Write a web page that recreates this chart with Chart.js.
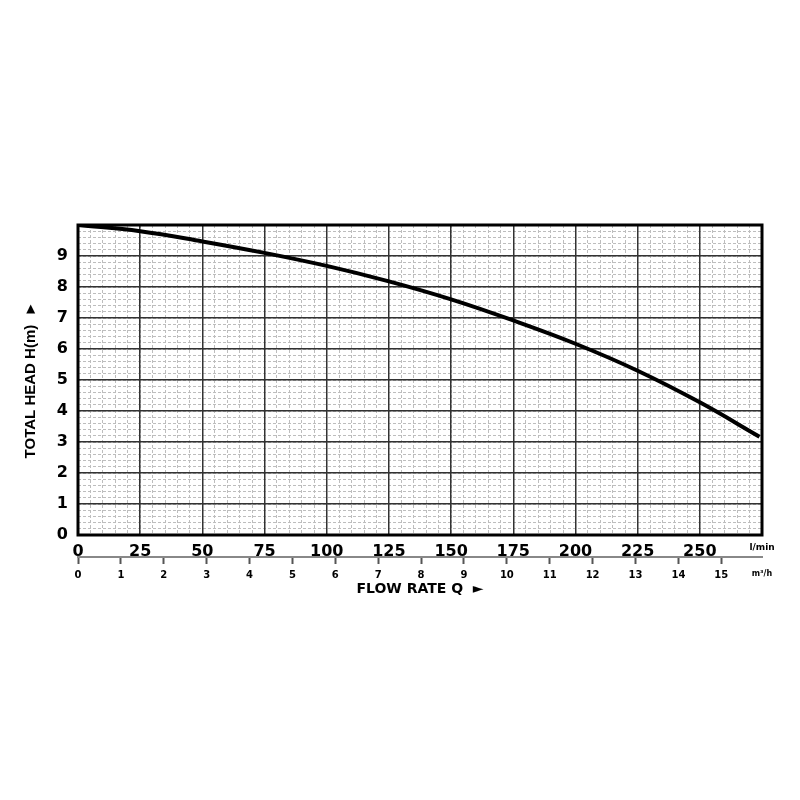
<!DOCTYPE html>
<html>
<head>
<meta charset="utf-8">
<script src="https://cdn.jsdelivr.net/npm/chart.js@4"></script>
<style>
  body { margin: 0; background: #fff; }
  canvas { display: block; }
</style>
</head>
<body>
<canvas id="pump" width="800" height="800"></canvas>
<script>
// pump curve: total head vs flow rate
const flowLmin = [0, 25, 50, 75, 100, 125, 150, 175, 200, 225, 250, 274];
const headM = [10, 9.8, 9.47, 9.1, 8.68, 8.18, 7.6, 6.92, 6.17, 5.3, 4.28, 3.17];

const lminTicks = [0, 25, 50, 75, 100, 125, 150, 175, 200, 225, 250, 275];
const m3hTicks = [0, 1, 2, 3, 4, 5, 6, 7, 8, 9, 10, 11, 12, 13, 14, 15, 15.95];
const headTicks = [0, 1, 2, 3, 4, 5, 6, 7, 8, 9, 10];

const lminUnit = 'l/min';
const m3hUnit = 'm³/h';

const FONT = 'DejaVu Sans';

const frame = {
    id: 'frame',
    afterDraw(chart) {
        const a = chart.chartArea;
        const ctx = chart.ctx;
        ctx.save();
        ctx.strokeStyle = '#000';
        ctx.lineWidth = 3;
        ctx.strokeRect(a.left, a.top, a.right - a.left, a.bottom - a.top);
        ctx.restore();
    }
};

const minorGrid = {
    display: true,
    color: '#bdbdbd',
    lineWidth: 1,
    drawTicks: false
};

new Chart(document.getElementById('pump'), {
    type: 'line',
    data: {
        datasets: [{
            data: flowLmin.map((q, i) => ({ x: q, y: headM[i] })),
            borderColor: '#000',
            borderWidth: 4,
            pointRadius: 0,
            tension: 0.4,
            fill: false
        }]
    },
    options: {
        responsive: false,
        animation: false,
        layout: { padding: { top: 225, right: 38, bottom: 202, left: 0 } },
        plugins: { legend: { display: false }, tooltip: { enabled: false } },
        scales: {
            xMinor: {
                type: 'linear', position: 'bottom', min: 0, max: 275, z: -1,
                ticks: { display: false, stepSize: 5 },
                grid: minorGrid,
                border: { display: false, dash: [3, 2] },
                afterFit: s => { s.height = 0; }
            },
            yMinor: {
                type: 'linear', position: 'left', min: 0, max: 10, z: -1,
                ticks: { display: false, stepSize: 0.2 },
                grid: minorGrid,
                border: { display: false, dash: [3, 2] },
                afterFit: s => { s.width = 0; }
            },
            x: {
                type: 'linear', position: 'bottom', min: 0, max: 275, weight: 0,
                afterBuildTicks: s => { s.ticks = lminTicks.map(v => ({ value: v })); },
                afterFit: s => { s.height = 22; },
                ticks: {
                    autoSkip: false, maxRotation: 0, padding: 7, color: '#000',
                    font: c => (c.tick && c.tick.value === 275)
                        ? { family: FONT, size: 9, weight: 'bold' }
                        : { family: FONT, size: 16, weight: 'bold' },
                    callback: v => v === 275 ? lminUnit : v
                },
                grid: { color: '#333', lineWidth: 1.5, drawTicks: false },
                border: { display: false }
            },
            x2: {
                type: 'linear', position: 'bottom', min: 0, max: 15.95, weight: 1,
                afterBuildTicks: s => { s.ticks = m3hTicks.map(v => ({ value: v })); },
                afterFit: s => { s.height = 41; },
                ticks: {
                    autoSkip: false, maxRotation: 0, padding: 5, color: '#000',
                    font: c => (c.tick && c.tick.value === 15.95)
                        ? { family: FONT, size: 8, weight: 'bold' }
                        : { family: FONT, size: 10, weight: 'bold' },
                    callback: v => v === 15.95 ? m3hUnit : v
                },
                grid: {
                    drawOnChartArea: false, drawTicks: true, tickLength: 7, tickWidth: 2,
                    tickColor: c => (c.tick && c.tick.value === 15.95) ? 'rgba(0,0,0,0)' : '#555'
                },
                border: { display: true, color: '#888', width: 2 },
                title: {
                    display: true, text: 'FLOW RATE Q  ►', color: '#000',
                    font: { family: FONT, size: 14, weight: 'bold' },
                    padding: { top: 0, bottom: 0 }
                }
            },
            y: {
                type: 'linear', position: 'left', min: 0, max: 10,
                afterBuildTicks: s => { s.ticks = headTicks.map(v => ({ value: v })); },
                afterFit: s => { s.width = 78; },
                ticks: {
                    padding: 10, color: '#000',
                    font: { family: FONT, size: 16, weight: 'bold' },
                    callback: v => v === 10 ? '' : v
                },
                grid: { color: '#333', lineWidth: 1.5, drawTicks: false },
                border: { display: false },
                title: {
                    display: true, text: 'TOTAL HEAD H(m)  ►', color: '#000',
                    font: { family: 'Liberation Sans', size: 15, weight: 'bold' },
                    padding: { top: 22, bottom: 0 }
                }
            }
        }
    },
    plugins: [frame]
});
</script>
</body>
</html>
